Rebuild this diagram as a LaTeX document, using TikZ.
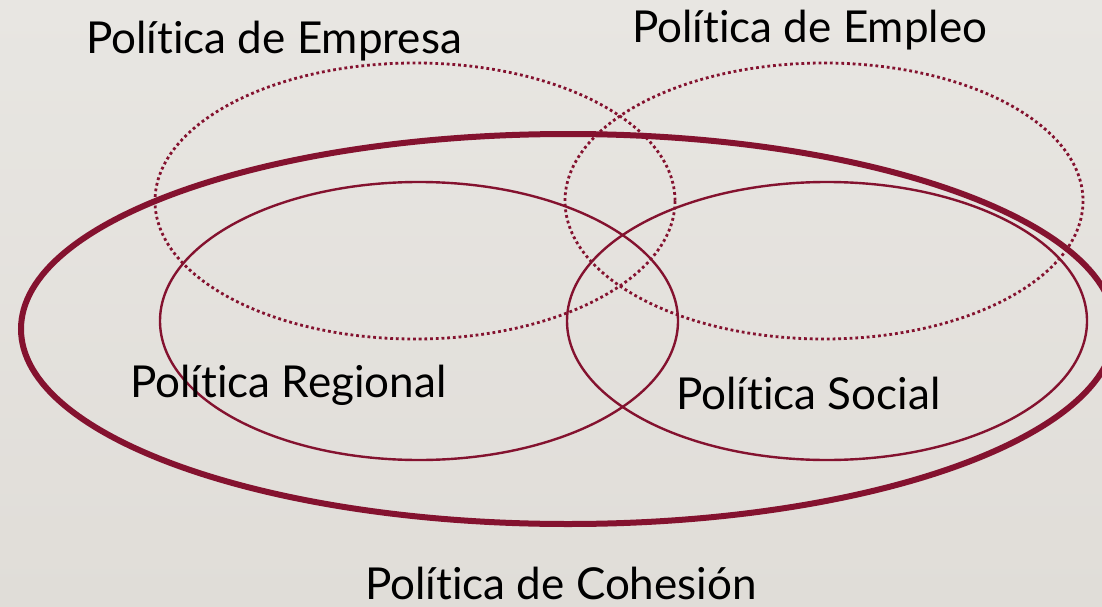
\documentclass[tikz,border=0pt]{standalone}
\usepackage{fontspec}
\setmainfont{Lato}[Ligatures={NoCommon}]
\definecolor{wine}{HTML}{84122F}
\definecolor{bgtop}{HTML}{E8E6E2}
\definecolor{bgbot}{HTML}{E0DDD8}
\begin{document}
\begin{tikzpicture}[x=1pt,y=-1pt,
  thinell/.style={draw=wine,line width=2.4pt},
  dotell/.style={draw=wine,line width=2.8pt,dash pattern=on 2.8pt off 2.9pt},
  bigell/.style={draw=wine,line width=6pt},
  lbl/.style={font=\fontsize{44}{50}\selectfont,text=black,inner sep=0pt,anchor=base west}]
\useasboundingbox (0,0) rectangle (1102,607);
\shade[top color=bgtop,bottom color=bgbot] (0,0) rectangle (1102,607);
\begin{scope}
\clip (0,0) rectangle (1102,607);
% dotted ellipses
\draw[dotell] (415,201) ellipse [x radius=260,y radius=138];
\draw[dotell] (824,201) ellipse [x radius=259,y radius=138];
% thin ellipses
\draw[thinell] (419,321) ellipse [x radius=259,y radius=139];
\draw[thinell] (827,321) ellipse [x radius=260,y radius=139];
% big ellipse
\draw[bigell] (568,329) ellipse [x radius=547,y radius=195];
\end{scope}
\node[lbl] (empresa) at (86,54) {Política de Empresa};
\node[lbl] (empleo) at (632,43) {Política de Empleo};
\node[lbl] (regional) at (130,397) {Política Regional};
\node[lbl] (social) at (676,409) {Política Social};
\node[lbl] (cohesion) at (365,599) {Política de Cohesión};
\end{tikzpicture}
\end{document}
